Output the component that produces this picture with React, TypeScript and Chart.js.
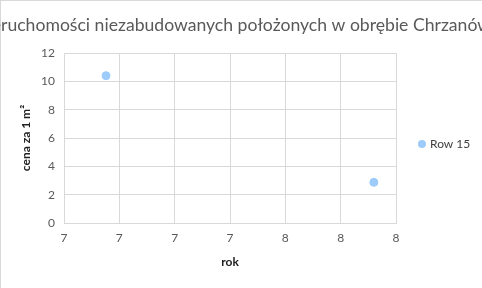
import React, { useEffect, useRef } from "react";
import { Chart, registerables } from "chart.js";

Chart.register(...registerables);

// Price per square metre of undeveloped property, by year
const chartTitle = "Ceny nieruchomości niezabudowanych położonych w obrębie Chrzanów";
const titleHiddenPrefix = "Ceny nie";
const seriesLabel = "Row 15";
const years = [6.69, 7.9];
const prices = [10.4, 2.87];
const xAxisTitle = "rok";
const yAxisTitle = "cena za 1 m²";

const FONT = "Lato, 'Open Sans', sans-serif";
const GRID = "#d9d9d9";
const TICK = "#595959";
const POINT = "#9dcbfa";

const decor = {
  id: "decor",
  afterDraw(chart: any) {
    const { ctx, width, height, chartArea } = chart;
    ctx.save();
    // outer frame (top and left edges)
    ctx.strokeStyle = GRID;
    ctx.lineWidth = 1;
    ctx.beginPath();
    ctx.moveTo(0, 0.5);
    ctx.lineTo(width, 0.5);
    ctx.moveTo(0.5, 0);
    ctx.lineTo(0.5, height);
    ctx.stroke();

    // title, wider than the canvas
    ctx.font = `17.6px ${FONT}`;
    ctx.fillStyle = TICK;
    ctx.textBaseline = "middle";
    ctx.textAlign = "left";
    const offset = ctx.measureText(titleHiddenPrefix).width;
    ctx.fillText(chartTitle, 1 - offset, 25);

    // legend
    const ly = (chartArea.top + chartArea.bottom) / 2 + 6;
    ctx.fillStyle = POINT;
    ctx.beginPath();
    ctx.arc(422, ly, 4, 0, Math.PI * 2);
    ctx.fill();
    ctx.font = `12px ${FONT}`;
    ctx.fillStyle = "#404040";
    ctx.fillText(seriesLabel, 430, ly);
    ctx.restore();
  },
};

export default function App() {
  const ref = useRef<HTMLCanvasElement | null>(null);

  useEffect(() => {
    if (!ref.current) return;
    const chart = new Chart(ref.current, {
      type: "scatter",
      data: {
        datasets: [
          {
            label: seriesLabel,
            data: years.map((x, i) => ({ x, y: prices[i] })),
            backgroundColor: POINT,
            borderColor: POINT,
            pointRadius: 4,
            pointHoverRadius: 4,
          },
        ],
      },
      options: {
        animation: false,
        responsive: false,
        layout: { padding: { top: 53, left: 0, right: 86, bottom: 0 } },
        plugins: {
          legend: { display: false },
          title: { display: false },
          tooltip: { enabled: false },
        },
        scales: {
          x: {
            type: "linear",
            min: 6.5,
            max: 8,
            afterFit(scale: any) {
              scale.height = 65;
            },
            ticks: {
              stepSize: 0.25,
              color: TICK,
              padding: 8,
              font: { family: FONT, size: 12 },
              callback: (v: any) => String(Math.round(Number(v))),
            },
            grid: { color: GRID, drawTicks: false },
            border: { color: GRID },
            title: {
              display: true,
              text: xAxisTitle,
              color: "#222",
              padding: { top: 19, bottom: 19 },
              font: { family: FONT, size: 12, weight: "bold" },
            },
          },
          y: {
            min: 0,
            max: 12,
            afterFit(scale: any) {
              scale.width = 64;
            },
            ticks: {
              stepSize: 2,
              color: TICK,
              padding: 9,
              font: { family: FONT, size: 12 },
            },
            grid: { color: GRID, drawTicks: false },
            border: { color: GRID },
            title: {
              display: true,
              text: yAxisTitle,
              color: "#222",
              padding: { top: 19, bottom: 19 },
              font: { family: FONT, size: 12, weight: "bold" },
            },
          },
        },
      },
      plugins: [decor],
    });
    return () => chart.destroy();
  }, []);

  return (
    <div style={{ position: "absolute", left: 0, top: 0, width: 482, height: 288 }}>
      <canvas ref={ref} width={482} height={288} style={{ display: "block" }} />
    </div>
  );
}
